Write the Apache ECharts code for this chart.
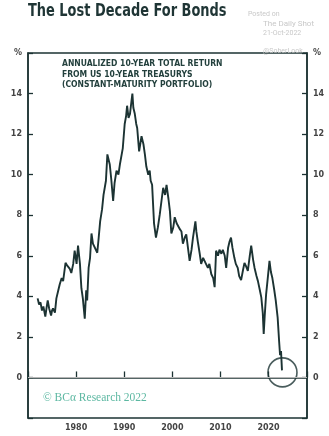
<!DOCTYPE html>
<html><head><meta charset="utf-8">
<script src="https://cdn.jsdelivr.net/npm/echarts@6/dist/echarts.min.js"></script>
<style>html,body{margin:0;padding:0;background:#fff}#c{width:329px;height:436px}</style>
</head><body><div id="c"></div>
<script>
var years = [1972.0,1972.3,1972.6,1972.9,1973.2,1973.6,1973.9,1974.1,1974.4,1974.8,1975.0,1975.2,1975.6,1975.9,1976.3,1976.6,1977.0,1977.3,1977.8,1978.2,1978.7,1979.0,1979.4,1979.7,1980.1,1980.4,1980.8,1981.1,1981.4,1981.6,1981.8,1982.1,1982.3,1982.6,1982.9,1983.2,1983.5,1983.9,1984.4,1984.7,1985.0,1985.4,1985.7,1986.2,1986.5,1986.8,1987.0,1987.3,1987.7,1988.0,1988.4,1988.8,1989.1,1989.7,1990.1,1990.4,1990.6,1990.9,1991.2,1991.5,1991.7,1991.9,1992.2,1992.5,1992.7,1993.1,1993.6,1994.0,1994.3,1994.6,1995.0,1995.3,1995.5,1995.8,1996.2,1996.6,1997.0,1997.4,1997.8,1998.1,1998.5,1998.8,1999.2,1999.5,1999.8,2000.2,2000.5,2000.9,2001.2,2001.6,2001.9,2002.2,2002.6,2002.9,2003.3,2003.6,2004.0,2004.3,2004.8,2005.0,2005.3,2005.7,2006.0,2006.4,2006.7,2007.0,2007.4,2007.7,2008.1,2008.5,2008.8,2009.1,2009.5,2009.8,2010.2,2010.5,2010.9,2011.2,2011.6,2011.9,2012.2,2012.5,2012.9,2013.2,2013.6,2013.9,2014.3,2014.7,2015.0,2015.3,2015.7,2016.1,2016.4,2016.8,2017.1,2017.5,2017.8,2018.2,2018.5,2018.8,2019.0,2019.2,2019.5,2019.8,2020.2,2020.5,2020.8,2021.2,2021.5,2021.9,2022.2,2022.4,2022.6,2022.8];
var returns = [3.9,3.6,3.7,3.3,3.5,3.0,3.5,3.8,3.4,3.05,3.3,3.4,3.2,3.9,4.3,4.6,4.9,4.75,5.65,5.5,5.35,5.15,5.6,6.25,5.6,6.5,5.6,4.4,3.9,3.4,2.9,4.3,3.8,5.4,5.9,7.1,6.6,6.6,6.15,6.9,7.7,8.3,9.0,9.7,11.0,10.7,10.5,9.8,8.7,9.6,10.2,10.0,10.5,11.3,12.5,12.9,13.4,12.8,13.0,13.6,14.0,13.3,13.0,12.5,12.3,11.15,11.9,11.5,11.0,10.4,10.0,10.2,9.7,9.5,7.6,6.9,7.4,8.05,8.8,9.35,9.0,9.5,8.8,8.2,7.1,7.4,7.9,7.6,7.55,7.3,7.2,6.6,6.9,7.05,6.3,5.75,6.3,6.9,7.7,7.2,6.7,6.1,5.6,5.9,5.9,5.6,5.4,5.6,5.1,4.9,4.45,6.25,6.0,6.3,6.1,6.3,6.0,5.4,6.4,6.7,6.9,6.4,5.9,5.6,5.4,5.0,4.8,5.3,5.65,5.5,5.25,6.0,6.5,5.8,5.4,5.0,4.75,4.3,3.95,3.2,2.15,3.0,4.1,4.8,5.75,5.2,4.9,4.3,3.8,2.95,1.8,1.1,1.3,0.35];
var yTicks = [0,2,4,6,8,10,12,14];
var xTicks = [1980,1990,2000,2010,2020];
var circlePoint = [2022.9, 0.25];

var dark = '#1c3333';
var chart = echarts.init(document.getElementById('c'));
var yLab = function(v){ if (v===16) return '%'; return yTicks.indexOf(v)>=0 ? String(v) : ''; };
var yBase = {
  type:'value', min:-2, max:16, interval:2,
  axisLine:{show:true, lineStyle:{color:dark, width:1.5}},
  axisTick:{show:true, inside:true, length:5, lineStyle:{color:dark, width:1.3}},
  splitLine:{show:false},
  axisLabel:{formatter:yLab, color:'#444', fontSize:8, fontWeight:'bold', fontFamily:'DejaVu Sans', margin:6}
};
chart.setOption({
  animation:false,
  grid:{left:28, right:22, top:53, bottom:18, show:true, borderColor:dark, borderWidth:1.5},
  xAxis:{type:'value', min:1970, max:2028, interval:10,
    axisLine:{show:true, lineStyle:{color:dark, width:1.5}},
    axisTick:{show:true, inside:true, length:6, lineStyle:{color:dark, width:1.3}},
    splitLine:{show:false},
    axisLabel:{formatter:function(v){return xTicks.indexOf(v)>=0?String(v):'';}, color:'#444', fontSize:8, fontWeight:'bold', fontFamily:'DejaVu Sans', margin:6}
  },
  yAxis:[Object.assign({position:'left'}, yBase), Object.assign({position:'right'}, yBase)],
  series:[
    {type:'line', data:years.map(function(y,i){return [y, returns[i]];}), showSymbol:false, symbol:'none',
     lineStyle:{color:dark, width:1.9}, z:3,
     markLine:{silent:true, symbol:'none', label:{show:false}, lineStyle:{color:'#b5b5b5', width:1, type:'solid'}, data:[{yAxis:0}]}},
    {type:'scatter', data:[circlePoint], symbol:'circle', symbolSize:29,
     itemStyle:{color:'rgba(0,0,0,0)', borderColor:dark, borderWidth:1.6}, z:4, silent:true}
  ],
  graphic:[
    {type:'text', x:28, y:2, scaleX:0.8, scaleY:1, style:{text:'The Lost Decade For Bonds', fontSize:18, fontWeight:'bold', fontFamily:'DejaVu Sans Condensed', fill:'#1f3535'}},
    {type:'text', left:248, top:11, style:{text:'Posted on', fontSize:7, fill:'#c8c8c8', fontFamily:'Roboto'}},
    {type:'text', left:263, top:20, style:{text:'The Daily Shot', fontSize:8, fill:'#c8c8c8', fontFamily:'Roboto'}},
    {type:'text', left:263, top:30, style:{text:'21-Oct-2022', fontSize:7, fill:'#c8c8c8', fontFamily:'Roboto'}},
    {type:'text', left:263, top:48, style:{text:'@SoberLook', fontSize:7, fill:'#c8c8c8', fontFamily:'Roboto'}},
    {type:'text', left:62, top:59, style:{text:'ANNUALIZED 10-YEAR TOTAL RETURN\nFROM US 10-YEAR TREASURYS\n(CONSTANT-MATURITY PORTFOLIO)', fontSize:8.5, lineHeight:10.5, fontWeight:'bold', fill:'#23403d', fontFamily:'DejaVu Sans Condensed'}},
    {type:'text', left:43, top:392, style:{text:'© BCα Research 2022', fontSize:11.5, fill:'#5db8a2', fontFamily:'Liberation Serif'}}
  ]
});
</script></body></html>
